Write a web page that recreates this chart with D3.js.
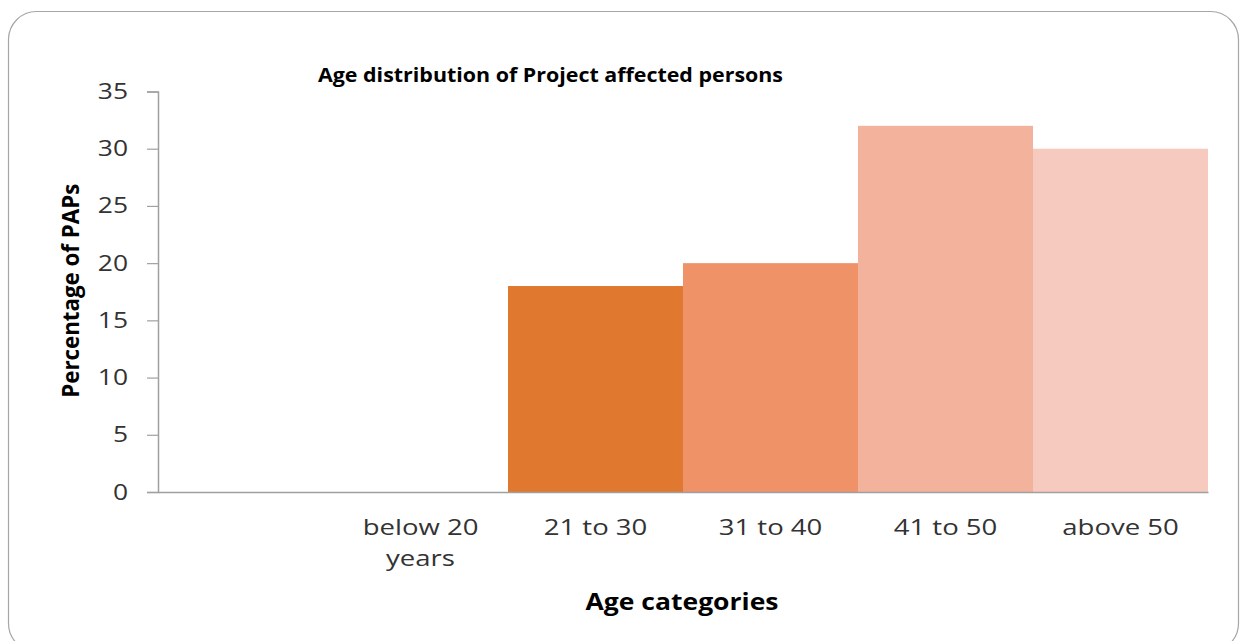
<!DOCTYPE html>
<html>
<head>
<meta charset="utf-8">
<style>
  body { margin: 0; background: #fff; }
  text { font-family: "Open Sans", sans-serif; }
</style>
</head>
<body>
<svg width="1241" height="641"></svg>
<script src="https://cdn.jsdelivr.net/npm/d3@7"></script>
<script>

// Age distribution of PAPs - plain column chart, bars touch (no gap)

var categories = ["", "below 20 years", "21 to 30", "31 to 40", "41 to 50", "above 50"];
var percentages = [0, 0, 18, 20, 32, 30];
var barColors = ["#e07830", "#e07830", "#e07830", "#ef9268", "#f2b29b", "#f6cabe"];
var yTicks = [0, 5, 10, 15, 20, 25, 30, 35];

var data = categories.map(function(c, i) {
  return {cat: c, value: percentages[i], color: barColors[i]};
});

var svg = d3.select("svg"),
    margin = {top: 91.5, right: 33, bottom: 149, left: 158},
    width = +svg.attr("width") - margin.left - margin.right,
    height = +svg.attr("height") - margin.top - margin.bottom;

// horizontal stretch, the original text is wider than any installed font
function stretch(sel, k) {
  sel.each(function() {
    var w = this.getComputedTextLength();
    d3.select(this).attr("textLength", w * k).attr("lengthAdjust", "spacingAndGlyphs");
  });
}

// chart frame with rounded corners
svg.append("rect")
    .attr("x", 8.5)
    .attr("y", 11.5)
    .attr("width", 1230)
    .attr("height", 640)
    .attr("rx", 28)
    .attr("fill", "#fff")
    .attr("stroke", "#a6a6a6")
    .attr("stroke-width", 1.2);

var g = svg.append("g").attr("transform", "translate(" + margin.left + "," + margin.top + ")");

var x = d3.scaleBand()
    .domain(categories)
    .range([0, width])
    .padding(0);

var y = d3.scaleLinear()
    .domain([0, 35])
    .range([height, 0]);

g.selectAll(".bar")
  .data(data.filter(function(d) { return d.value > 0; }))
  .enter().append("rect")
    .attr("class", "bar")
    .attr("x", function(d) { return x(d.cat); })
    .attr("y", function(d) { return y(d.value); })
    .attr("width", x.bandwidth())
    .attr("height", function(d) { return height - y(d.value); })
    .attr("fill", function(d) { return d.color; });

// y axis
var yAxis = g.append("g")
    .call(d3.axisLeft(y).tickValues(yTicks).tickSize(11).tickPadding(19));
yAxis.select(".domain").attr("stroke", "#a0a0a0").attr("stroke-width", 1.5);
yAxis.selectAll(".tick line").attr("stroke", "#a0a0a0").attr("stroke-width", 1.2);
yAxis.selectAll(".tick text")
    .attr("fill", "#333")
    .style("font-size", "22px");
stretch(yAxis.selectAll(".tick text"), 1.2);

// x axis
var xAxis = g.append("g")
    .attr("transform", "translate(0," + height + ")")
    .call(d3.axisBottom(x).tickSize(0).tickPadding(0).tickSizeOuter(0));
xAxis.select(".domain").attr("stroke", "#a0a0a0").attr("stroke-width", 1.5);
xAxis.selectAll(".tick text").each(function(d) {
  var t = d3.select(this), words = d.split(" ");
  var lines = d.length > 10 ? [words.slice(0, -1).join(" "), words[words.length - 1]] : [d];
  t.text(null).attr("y", 0).attr("dy", null);
  lines.forEach(function(l, i) {
    t.append("tspan").attr("x", 0).attr("y", 43 + i * 31).text(l);
  });
})
    .attr("fill", "#333")
    .style("font-size", "21.5px");
stretch(xAxis.selectAll(".tick tspan"), 1.28);

// titles
svg.append("text")
    .attr("x", 318)
    .attr("y", 82)
    .attr("fill", "#000")
    .style("font-size", "19px")
    .style("font-weight", "bold")
    .text("Age distribution of Project affected persons")
    .attr("textLength", 465).attr("lengthAdjust", "spacingAndGlyphs");

svg.append("text")
    .attr("transform", "translate(79," + (margin.top + height / 2 - 1) + ") rotate(-90)")
    .attr("text-anchor", "middle")
    .attr("fill", "#000")
    .style("font-size", "24px")
    .style("font-weight", "bold")
    .text("Percentage of PAPs")
    .attr("textLength", 214).attr("lengthAdjust", "spacingAndGlyphs");

svg.append("text")
    .attr("x", 682)
    .attr("y", 610)
    .attr("text-anchor", "middle")
    .attr("fill", "#000")
    .style("font-size", "23px")
    .style("font-weight", "bold")
    .text("Age categories")
    .attr("textLength", 193).attr("lengthAdjust", "spacingAndGlyphs");

</script>
</body>
</html>
